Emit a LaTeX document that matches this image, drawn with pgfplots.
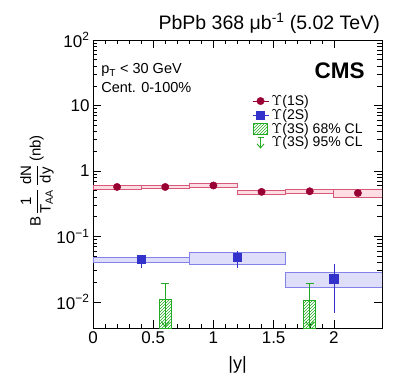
\documentclass[border=0pt]{standalone}
\usepackage{fontspec}
\setmainfont{Liberation Sans}
\usepackage{pgfplots}
\pgfplotsset{compat=1.18}
\usetikzlibrary{patterns,arrows.meta}

\definecolor{c1}{RGB}{153,0,51}
\definecolor{c1edge}{RGB}{214,90,120}
\definecolor{c1fill}{RGB}{252,222,228}
\definecolor{c2}{RGB}{51,51,204}
\definecolor{c2edge}{RGB}{130,130,232}
\definecolor{c2fill}{RGB}{222,222,250}
\definecolor{c3}{RGB}{34,170,34}

\begin{document}
\begin{tikzpicture}
  \begin{axis}[
    scale only axis,
    width=289pt, height=288pt,
    xmin=0, xmax=2.4,
    ymode=log, ymin=0.004, ymax=100,
    xtick={0,0.5,1,1.5,2},
    minor x tick num=4,
    ytick={0.01,0.1,1,10,100},
    yticklabels={10\textsuperscript{−2},10\textsuperscript{−1},1,10,10\textsuperscript{2}},
    xticklabel pos=lower, yticklabel pos=left,
    xtick pos=both, ytick pos=both,
    tick align=inside,
    major tick length=8pt, minor tick length=4.5pt,
    tick style={black, line width=0.5pt},
    axis line style={line width=0.8pt},
    /pgf/number format/assume math mode=true,
    ticklabel style={font=\fontsize{17}{19}\selectfont},
    xlabel={|y|},
    xlabel style={at={(rel axis cs:0.5,0)}, anchor=center, yshift=-37pt, font=\fontsize{18}{20}\selectfont},
    ylabel={B\,$\displaystyle\frac{\mbox{1}}{\mbox{T\textsubscript{AA}}}\,\frac{\mbox{dN}}{\mbox{dy}}$\,(nb)},
    ylabel style={at={(rel axis cs:-0.194,0.51)}, anchor=center, font=\fontsize{15}{17}\selectfont},
    legend style={at={(0.54,0.818)}, anchor=north west, draw=none, fill=none,
      font=\fontsize{14}{15}\selectfont, row sep=1pt, column sep=2pt,
      nodes={inner sep=0.6pt}},
    legend cell align=left,
  ]
  % Upsilon(1S) systematic boxes
  \addplot[draw=c1edge, fill=c1fill, line width=0.8pt, forget plot] coordinates {(0,0.53) (0.4,0.53) (0.4,0.60) (0,0.60)} -- cycle;
  \addplot[draw=c1edge, fill=c1fill, line width=0.8pt, forget plot] coordinates {(0.4,0.537) (0.8,0.537) (0.8,0.61) (0.4,0.61)} -- cycle;
  \addplot[draw=c1edge, fill=c1fill, line width=0.8pt, forget plot] coordinates {(0.8,0.56) (1.2,0.56) (1.2,0.65) (0.8,0.65)} -- cycle;
  \addplot[draw=c1edge, fill=c1fill, line width=0.8pt, forget plot] coordinates {(1.2,0.44) (1.6,0.44) (1.6,0.51) (1.2,0.51)} -- cycle;
  \addplot[draw=c1edge, fill=c1fill, line width=0.8pt, forget plot] coordinates {(1.6,0.457) (2.0,0.457) (2.0,0.525) (1.6,0.525)} -- cycle;
  \addplot[draw=c1edge, fill=c1fill, line width=0.8pt, forget plot] coordinates {(2.0,0.39) (2.4,0.39) (2.4,0.52) (2.0,0.52)} -- cycle;

  % Upsilon(2S) systematic boxes
  \addplot[draw=c2edge, fill=c2fill, line width=0.8pt, forget plot] coordinates {(0,0.040) (0.8,0.040) (0.8,0.0485) (0,0.0485)} -- cycle;
  \addplot[draw=c2edge, fill=c2fill, line width=0.8pt, forget plot] coordinates {(0.8,0.038) (1.6,0.038) (1.6,0.0566) (0.8,0.0566)} -- cycle;
  \addplot[draw=c2edge, fill=c2fill, line width=0.8pt, forget plot] coordinates {(1.6,0.0169) (2.4,0.0169) (2.4,0.028) (1.6,0.028)} -- cycle;

  % Upsilon(3S) 68% CL hatched boxes
  \addplot[draw=c3, pattern=north east lines, pattern color=c3, line width=0.6pt, forget plot] coordinates {(0.55,0.004) (0.65,0.004) (0.65,0.011) (0.55,0.011)} -- cycle;
  \addplot[draw=c3, pattern=north east lines, pattern color=c3, line width=0.6pt, forget plot] coordinates {(1.75,0.004) (1.85,0.004) (1.85,0.0106) (1.75,0.0106)} -- cycle;

  % Upsilon(3S) 95% CL arrows
  \addplot[c3, line width=0.9pt, -{Straight Barb[length=5pt,width=8pt]}, forget plot] coordinates {(0.6,0.019) (0.6,0.0041)};
  \addplot[c3, line width=0.9pt, forget plot] coordinates {(0.567,0.019) (0.633,0.019)};
  \addplot[c3, line width=0.9pt, -{Straight Barb[length=5pt,width=8pt]}, forget plot] coordinates {(1.8,0.019) (1.8,0.0041)};
  \addplot[c3, line width=0.9pt, forget plot] coordinates {(1.767,0.019) (1.833,0.019)};

  % Upsilon(1S) points
  \addplot[only marks, mark=*, mark size=3.7pt, c1, forget plot,
    error bars/.cd, y dir=both, y explicit, error mark=none,
    error bar style={c1, line width=0.6pt}]
    coordinates {
      (0.2,0.57) +- (0,0.02)
      (0.6,0.57) +- (0,0.02)
      (1.0,0.60) +- (0,0.02)
      (1.4,0.48) +- (0,0.02)
      (1.8,0.49) +- (0,0.02)
      (2.2,0.46) +- (0,0.03)
    };

  % Upsilon(2S) points
  \addplot[only marks, mark=square*, mark size=4.2pt, c2, forget plot,
    error bars/.cd, y dir=both, y explicit, error mark=none,
    error bar style={c2, line width=0.6pt}]
    coordinates {
      (0.4,0.045) += (0,0.008) -= (0,0.0125)
      (1.2,0.048) += (0,0.013) -= (0,0.015)
      (2.0,0.0225) += (0,0.016) -= (0,0.0158)
    };

  % legend
  \addlegendimage{legend image code/.code={
    \draw[c1, line width=0.6pt] (0pt,0pt) -- (16pt,0pt);
    \fill[c1] (8pt,0pt) circle (3.7pt);}}
  \addlegendentry{$\Upsilon$(1S)}
  \addlegendimage{legend image code/.code={
    \draw[c2, line width=0.6pt] (0pt,0pt) -- (16pt,0pt);
    \fill[c2] (4pt,-4pt) rectangle (12pt,4pt);}}
  \addlegendentry{$\Upsilon$(2S)}
  \addlegendimage{legend image code/.code={
    \draw[c3, pattern=north east lines, pattern color=c3, line width=0.6pt] (1pt,-5.5pt) rectangle (15pt,5.5pt);}}
  \addlegendentry{$\Upsilon$(3S) 68\% CL}
  \addlegendimage{legend image code/.code={
    \draw[c3, line width=0.9pt, -{Straight Barb[length=4pt,width=7pt]}] (8pt,5.5pt) -- (8pt,-6pt);
    \draw[c3, line width=0.9pt] (5pt,5.5pt) -- (11pt,5.5pt);}}
  \addlegendentry{$\Upsilon$(3S) 95\% CL}

  % text inside the frame
  \node[anchor=base west, font=\fontsize{14.5}{16}\selectfont, inner sep=0pt] at (rel axis cs:0.028,0.882) {p\textsubscript{T} < 30 GeV};
  \node[anchor=base west, font=\fontsize{14.5}{16}\selectfont, inner sep=0pt] at (rel axis cs:0.028,0.816) {Cent. 0-100\%};
  \node[anchor=base east, font=\fontsize{22.5}{24}\selectfont\bfseries, inner sep=0pt] at (rel axis cs:0.941,0.868) {CMS};
  \end{axis}
  \node[anchor=base east, font=\fontsize{19.5}{21}\selectfont, inner sep=0pt] at ([shift={(-2pt,10pt)}]current axis.north east) {PbPb 368 μb\textsuperscript{-1} (5.02 TeV)};
  \path ([shift={(-93pt,-63pt)}]current axis.south west) rectangle ([shift={(25pt,40pt)}]current axis.north east);
\end{tikzpicture}
\end{document}
